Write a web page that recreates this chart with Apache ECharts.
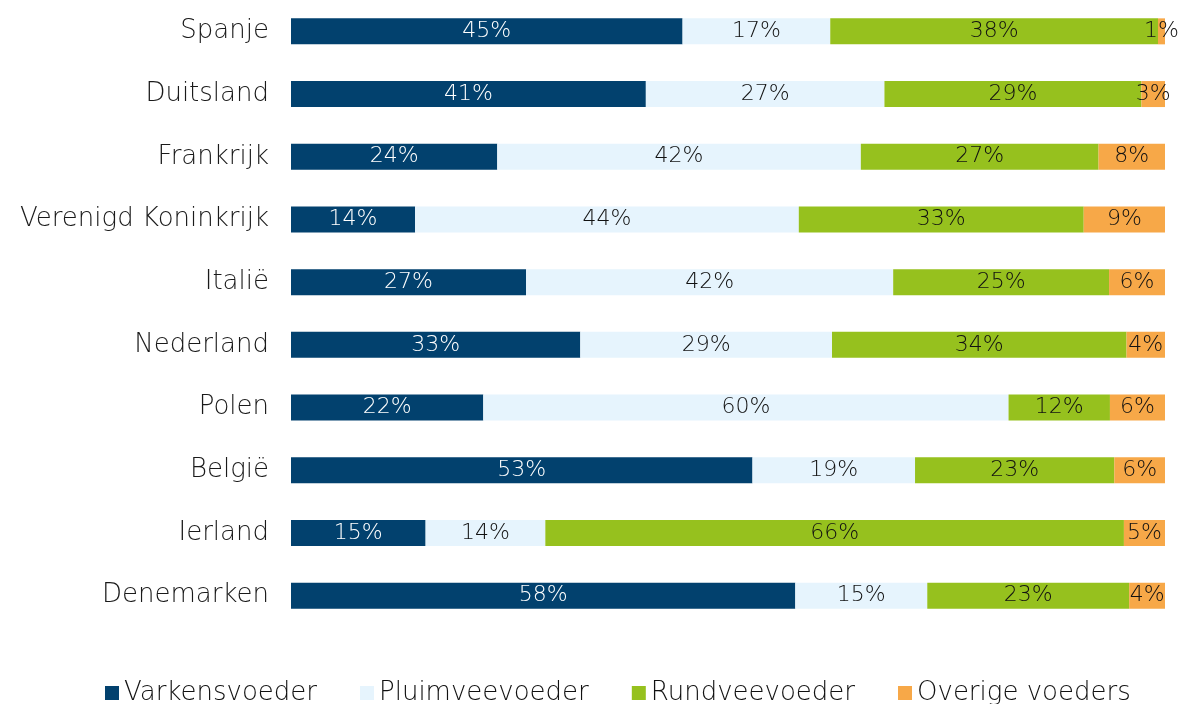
<!DOCTYPE html>
<html>
<head>
<meta charset="utf-8">
<script src="https://cdn.jsdelivr.net/npm/echarts@6/dist/echarts.min.js"></script>
<style>html,body{margin:0;padding:0;background:#fff}#c{width:1179px;height:704px}</style>
</head>
<body>
<div id="c"></div>
<script>
const categories = ['Spanje','Duitsland','Frankrijk','Verenigd Koninkrijk','Italië','Nederland','Polen','België','Ierland','Denemarken'];
const seriesNames = ['Varkensvoeder','Pluimveevoeder','Rundveevoeder','Overige voeders'];
const varkens = [44.8, 40.6, 23.6, 14.2, 26.9, 33.1, 22.0, 52.8, 15.4, 57.7];
const pluimvee = [16.9, 27.3, 41.6, 43.9, 42.0, 28.8, 60.1, 18.6, 13.7, 15.1];
const rundvee = [37.5, 29.4, 27.2, 32.6, 24.7, 33.7, 11.6, 22.8, 66.2, 23.1];
const overige = [0.8, 2.7, 7.6, 9.3, 6.4, 4.4, 6.3, 5.8, 4.7, 4.1];
const colors = ['#02416E','#E6F4FD','#96C11E','#F7A848'];
const labelColors = ['#ffffff','#111111','#111111','#111111'];
const FONT = '"DejaVu Sans ExtraLight", "DejaVu Sans"';
const allData = [varkens, pluimvee, rundvee, overige];

const chart = echarts.init(document.getElementById('c'));
chart.setOption({
  animation: false,
  grid: { left: 291, right: 14, top: 0, height: 627, containLabel: false },
  xAxis: { type: 'value', min: 0, max: 100, show: false },
  yAxis: {
    type: 'category', inverse: true, data: categories,
    axisLine: { show: false }, axisTick: { show: false },
    axisLabel: { margin: 22, color: '#1a1a1a', fontSize: 26, fontFamily: FONT, fontWeight: 200 }
  },
  legend: {
    bottom: -7, left: 100, itemWidth: 14, itemHeight: 14, itemGap: 43,
    icon: 'rect',
    textStyle: { fontSize: 26, color: '#111', fontFamily: FONT, fontWeight: 200 },
    data: seriesNames
  },
  series: seriesNames.map((n, i) => ({
    name: n, type: 'bar', stack: 'total', barWidth: 26,
    data: allData[i],
    itemStyle: { color: colors[i] },
    label: {
      show: true, position: 'inside', color: labelColors[i],
      fontSize: 22, fontFamily: FONT, fontWeight: 200,
      formatter: p => Math.round(p.value) + '%'
    },
    labelLayout: { hideOverlap: false }
  }))
});
</script>
</body>
</html>
